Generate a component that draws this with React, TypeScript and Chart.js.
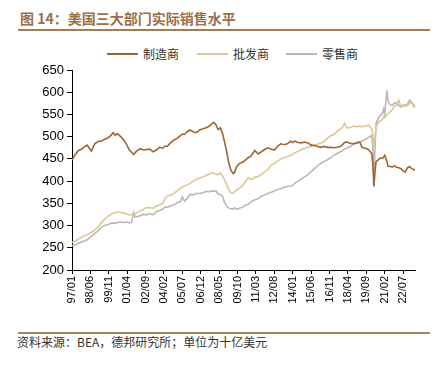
import React, { useEffect, useRef } from "react";
import { Chart, registerables } from "chart.js";

Chart.register(...registerables);

const months = [
  "1997-01","1997-04","1997-07","1997-10","1998-01","1998-03","1998-05","1998-07","1998-10",
  "1999-01","1999-04","1999-07","1999-10","2000-01","2000-03","2000-05","2000-07","2000-10",
  "2001-01","2001-04","2001-06","2001-08","2001-10","2001-11","2002-01","2002-04","2002-07","2002-10",
  "2003-01","2003-04","2003-07","2003-10","2004-01","2004-03","2004-05","2004-08","2004-11",
  "2005-02","2005-05","2005-07","2005-09","2005-11","2006-02","2006-05","2006-08","2006-11",
  "2007-02","2007-05","2007-08","2007-10","2007-12","2008-02","2008-04","2008-06","2008-08","2008-10","2008-12",
  "2009-02","2009-04","2009-06","2009-07","2009-09","2009-12","2010-03","2010-06","2010-08","2010-10","2010-12",
  "2011-02","2011-05","2011-08","2011-11","2012-02","2012-05","2012-08","2012-11",
  "2013-02","2013-05","2013-08","2013-11","2014-01","2014-03","2014-06","2014-09","2014-12",
  "2015-03","2015-06","2015-09","2015-12","2016-03","2016-06","2016-09","2016-12",
  "2017-03","2017-06","2017-09","2017-11","2018-01","2018-03","2018-06","2018-09","2018-12",
  "2019-03","2019-05","2019-08","2019-11","2020-02","2020-03","2020-04","2020-05","2020-06","2020-08","2020-10","2020-12",
  "2021-01","2021-02","2021-04","2021-05","2021-07","2021-09","2021-11",
  "2022-01","2022-03","2022-05","2022-07","2022-09","2022-11","2023-01","2023-03","2023-05","2023-06",
];

const manufacturing = [
  447,460,469,472,478,481,474,468,484,
  489,490,494,497,503,509,503,507,500,
  492,480,470,465,460,463,468,473,470,471,
  472,466,470,476,474,479,478,486,492,
  496,502,506,505,510,515,511,509,515,
  518,520,524,528,532,527,516,520,508,488,466,
  440,424,417,418,432,440,443,449,453,455,462,
  469,461,466,471,475,472,470,478,
  484,482,484,490,487,490,487,486,488,
  486,481,480,478,476,478,476,476,
  475,476,478,482,487,488,485,484,486,
  488,476,474,471,462,440,388,420,444,448,452,451,
  454,458,445,434,433,432,434,
  431,430,428,423,420,430,433,428,426,424,
];

const wholesale = [
  262,265,270,274,277,279,282,285,290,
  297,306,314,320,325,328,329,331,330,
  328,326,324,325,327,326,329,333,336,341,
  340,339,344,347,350,362,366,368,372,
  378,383,387,389,391,395,400,404,407,
  409,413,416,418,418,416,414,419,413,402,392,
  380,374,373,375,380,385,391,402,408,404,405,
  409,410,415,420,426,436,440,445,
  450,453,455,458,460,464,467,471,474,
  476,478,481,483,486,489,496,502,
  505,512,517,521,530,520,520,524,522,
  524,522,524,526,518,505,470,495,520,533,535,539,
  545,543,550,552,556,560,568,
  572,582,567,572,568,570,575,578,567,565,
];

const retail = [
  255,257,260,263,266,268,272,276,282,
  288,296,300,302,305,306,305,307,308,
  307,308,306,307,329,320,320,322,325,324,
  327,324,331,334,337,342,341,344,347,
  351,354,364,355,360,370,369,372,372,
  374,377,376,378,377,378,371,370,366,352,344,
  339,338,337,340,337,339,342,347,348,352,356,
  358,360,366,369,372,375,378,381,
  383,386,388,389,390,395,400,405,410,
  414,421,428,434,440,444,448,453,
  458,462,466,469,472,474,478,483,485,
  488,490,494,498,503,480,413,470,530,541,548,553,
  562,550,605,580,572,570,576,
  575,570,567,569,571,573,582,576,571,568,
];

const xTickLabels = [
  "97/01","98/06","99/11","01/04","02/09","04/02","05/07","06/12","08/05","09/10",
  "11/03","12/08","14/01","15/06","16/11","18/04","19/09","21/02","22/07",
];

const seriesNames = ["制造商", "批发商", "零售商"];
const seriesColors = ["#9e6534", "#dcc797", "#b8b8b8"];

const yMin = 200;
const yMax = 650;
const yStep = 50;

const monthIndex = (s: string) => {
  const [y, m] = s.split("-").map(Number);
  return (y - 1997) * 12 + (m - 1);
};
const labelIndex = (l: string) => {
  const [yy, mm] = l.split("/").map(Number);
  const y = yy > 50 ? 1900 + yy : 2000 + yy;
  return (y - 1997) * 12 + (mm - 1);
};

const FONT = "'Liberation Sans', Arial, sans-serif";
const CJK = "'Noto Sans CJK SC', sans-serif";

const CANVAS_TOP = 50;
const CANVAS_H = 266;
const legendLefts = [107, 197, 286];

export default function App() {
  const ref = useRef<HTMLCanvasElement | null>(null);
  useEffect(() => {
    if (!ref.current) return;
    const all = [manufacturing, wholesale, retail];
    const chart = new Chart(ref.current, {
      type: "line",
      data: {
        datasets: all.map((vals, i) => ({
          label: seriesNames[i],
          data: vals.map((v, j) => ({ x: monthIndex(months[j]), y: v })),
          borderColor: seriesColors[i],
          backgroundColor: seriesColors[i],
          borderWidth: 1.6,
          pointRadius: 0,
          tension: 0,
        })),
      },
      options: {
        responsive: false,
        animation: false,
        devicePixelRatio: 1,
        layout: { padding: { left: 0, right: 24, top: 20, bottom: 0 } },
        plugins: {
          tooltip: { enabled: false },
          legend: { display: false },
        },
        scales: {
          x: {
            type: "linear",
            min: monthIndex(months[0]),
            max: monthIndex(months[months.length - 1]),
            afterBuildTicks: (s: any) => {
              s.ticks = xTickLabels.map((l) => ({ value: labelIndex(l) }));
            },
            afterFit: (s: any) => {
              s.height = 46;
            },
            ticks: {
              autoSkip: false,
              maxRotation: 90,
              minRotation: 90,
              padding: 2,
              color: "#000",
              font: { size: 11, family: FONT },
              callback: (_v: any, i: number) => xTickLabels[i],
            },
            grid: { drawOnChartArea: false, drawTicks: true, tickLength: 4, color: "#000" },
            border: { display: true, color: "#000", width: 1 },
          },
          y: {
            min: yMin,
            max: yMax,
            afterFit: (s: any) => {
              s.width = 72;
            },
            ticks: {
              stepSize: yStep,
              padding: 3,
              color: "#000",
              font: { size: 13, family: FONT },
            },
            grid: { drawOnChartArea: false, drawTicks: true, tickLength: 5, color: "#000" },
            border: { display: true, color: "#000", width: 1 },
          },
        },
      },
    } as any);
    return () => chart.destroy();
  }, []);

  return (
    <div style={{ position: "absolute", left: 0, top: 0, width: 439, height: 365, background: "#fff" }}>
      <div
        style={{
          position: "absolute",
          left: 20,
          top: 8,
          fontFamily: CJK,
          fontWeight: 700,
          fontSize: 14,
          lineHeight: "20px",
          color: "#9a7048",
          whiteSpace: "nowrap",
        }}
      >
        图 14：美国三大部门实际销售水平
      </div>
      <div style={{ position: "absolute", left: 18, top: 29, width: 412, height: 2, background: "#a77a52" }} />
      {seriesNames.map((name, i) => (
        <div
          key={name}
          style={{
            position: "absolute",
            left: legendLefts[i],
            top: 46,
            height: 16,
            display: "flex",
            alignItems: "center",
            whiteSpace: "nowrap",
          }}
        >
          <span style={{ display: "inline-block", width: 31, height: 2, background: seriesColors[i] }} />
          <span
            style={{
              marginLeft: 5,
              fontFamily: CJK,
              fontSize: 12,
              lineHeight: "16px",
              color: "#333",
            }}
          >
            {name}
          </span>
        </div>
      ))}
      <canvas
        ref={ref}
        width={439}
        height={CANVAS_H}
        style={{ position: "absolute", left: 0, top: CANVAS_TOP, width: 439, height: CANVAS_H }}
      />
      <div style={{ position: "absolute", left: 18, top: 332, width: 412, height: 1.5, background: "#b0835c" }} />
      <div
        style={{
          position: "absolute",
          left: 17,
          top: 334,
          fontFamily: CJK,
          fontSize: 12,
          lineHeight: "16px",
          color: "#333",
          whiteSpace: "nowrap",
        }}
      >
        资料来源：BEA，德邦研究所；单位为十亿美元
      </div>
    </div>
  );
}
